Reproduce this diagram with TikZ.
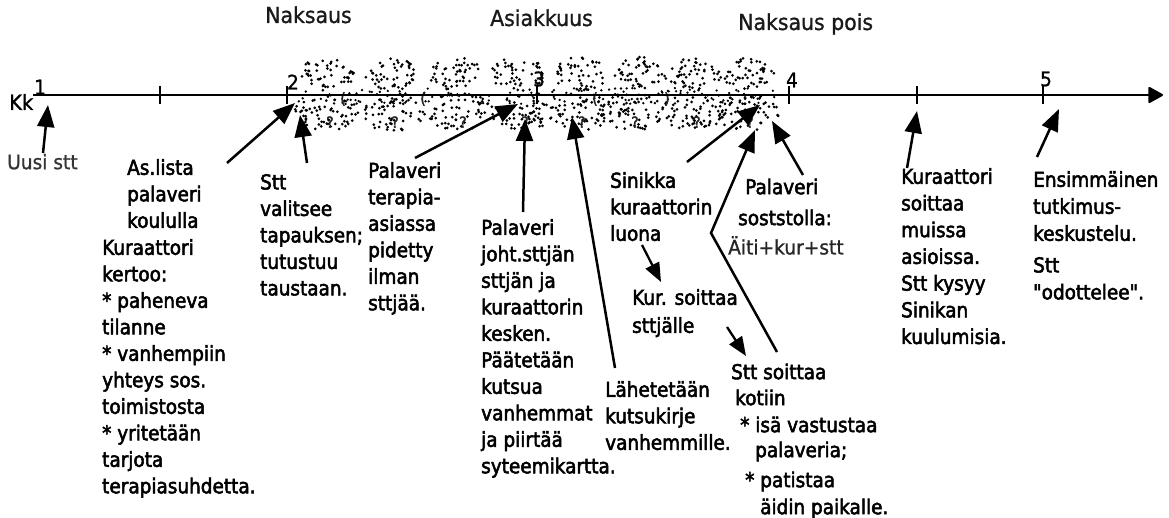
\documentclass[tikz,border=0pt]{standalone}
\usepackage{fontspec}
\setmainfont{DejaVu Sans}
\newfontfamily\bodyf[FakeBold=2.5,FakeStretch=0.9]{DejaVu Sans}
\newfontfamily\lightf[FakeBold=1,FakeStretch=0.93]{DejaVu Sans}
\usetikzlibrary{arrows.meta}
\begin{document}
\begin{tikzpicture}[x=1pt,y=-1pt,
 arr/.style={line width=2.5pt,-{Triangle[length=22pt,width=17pt]}},
 sarr/.style={line width=2.3pt,-{Triangle[length=19pt,width=15pt]}},
 txt/.style={anchor=north west,inner sep=0pt,align=left,
   font=\bodyf\fontsize{20.5}{26.5}\selectfont,
   execute at begin node={\rule{0pt}{18pt}}},
 ltxt/.style={txt,font=\lightf\fontsize{20}{26.5}\selectfont,text=black!80},
 hdr/.style={anchor=base west,inner sep=0pt,font=\lightf\fontsize{22}{25}\selectfont,text=black!90},
 num/.style={inner sep=0pt,font=\lightf\fontsize{20}{20}\selectfont},
 dotq/.style={inner sep=0pt,font=\bodyf\fontsize{15}{15}\selectfont,text=black!85},
 tick/.style={line width=2.2pt}]
\useasboundingbox[fill=white] (0,0) rectangle (1169,518);

% ---- stippled cloud ----
\pgfmathsetseed{1234}
\foreach \cx in {327,392,455,518,580,640,695,748}{
  \foreach \k in {1,...,50}{
    \pgfmathsetmacro\aa{360*rnd}
    \pgfmathsetmacro\rr{sqrt(rnd)}
    \fill ({\cx+27*\rr*cos(\aa)},{74+17*\rr*sin(\aa)}) circle[radius=1.5pt];
  }
}
\foreach \cx in {330,395,463,525,582,635,697,750}{
  \foreach \k in {1,...,62}{
    \pgfmathsetmacro\aa{360*rnd}
    \pgfmathsetmacro\rr{sqrt(rnd)}
    \fill ({\cx-3+33*\rr*cos(\aa)},{112+19*\rr*sin(\aa)}) circle[radius=1.5pt];
  }
  \node[dotq] (q\cx) at (\cx,122) {?};
}
\foreach \k in {1,...,130}{
  \fill ({298+477*rnd},{96+8*rand}) circle[radius=1.3pt];
}
\node[dotq] (pa) at (343,99) {(};
\node[dotq] (pb) at (423,99) {(};
\node[dotq] (pc) at (595,99) {(};
\node[dotq] (pd) at (667,99) {)};

% ---- axis ----
\coordinate (ax0) at (33,95);
\coordinate (ax1) at (1163,95);
\draw[line width=2.2pt,-{Triangle[length=16pt,width=17pt,round]}] (ax0) -- (ax1);
\foreach \t in {160,287,537,789,917,1043}{\draw[tick] (\t,86) -- (\t,104);}
\node[num] (n1) at (40,87) {1};
\node[num] (n2) at (293,82) {2};
\node[num] (n3) at (539,79) {3};
\node[num] (n4) at (792,80) {4};
\node[num] (n5) at (1046,79) {5};
\node[anchor=west,inner sep=0pt,font=\lightf\fontsize{21}{22}\selectfont] (kk) at (9,102) {Kk};

% ---- headers ----
\node[hdr] (h1) at (265,23) {Naksaus};
\node[hdr] (h2) at (490,26) {Asiakkuus};
\node[hdr] (h3) at (738,30) {Naksaus pois};

% ---- texts ----
\node[ltxt] (uusi) at (7,151) {Uusi stt};
\node[txt] (as1) at (127,159) {As.lista\\palaveri\\koululla};
\node[txt] (as2) at (102,239) {Kuraattori\\kertoo:\\* paheneva\\tilanne\\* vanhempiin\\yhteys sos.\\toimistosta\\* yritetään\\tarjota\\terapiasuhdetta.};
\node[txt] (stt) at (260,174) {Stt\\valitsee\\tapauksen;\\tutustuu\\taustaan.};
\node[txt] (pter) at (368,162) {Palaveri\\terapia-\\asiassa\\pidetty\\ilman\\sttjää.};
\node[txt] (pjoht) at (481,219) {Palaveri\\joht.sttjän\\sttjän ja\\kuraattorin\\kesken.\\Päätetään\\kutsua\\vanhemmat\\ja piirtää\\syteemikartta.};
\node[txt] (lah) at (605,381) {Lähetetään\\kutsukirje\\vanhemmille.};
\node[txt] (sin) at (610,172) {Sinikka\\kuraattorin\\luona};
\node[txt,font=\bodyf\fontsize{20.5}{28}\selectfont] (kur) at (632,289) {Kur. soittaa\\sttjälle};
\node[txt] (pso1) at (745,176) {Palaveri};
\node[txt] (pso2) at (738,207) {soststolla:};
\node[ltxt,text=black!85] (pso3) at (728,236) {Äiti+kur+stt};
\node[txt] (ss1) at (731,361) {Stt soittaa};
\node[txt] (ss2) at (735,387) {kotiin};
\node[txt] (ss3) at (740,414) {* isä vastustaa};
\node[txt] (ss4) at (755,439) {palaveria;};
\node[txt] (ss5) at (745,469) {* patistaa};
\node[txt] (ss6) at (760,496) {äidin paikalle.};
\node[txt,font=\bodyf\fontsize{20.5}{26.7}\selectfont] (kura) at (901,168) {Kuraattori\\soittaa\\muissa\\asioissa.\\Stt kysyy\\Sinikan\\kuulumisia.};
\node[txt,font=\bodyf\fontsize{20.5}{27}\selectfont] (ens1) at (1033,171) {Ensimmäinen\\tutkimus-\\keskustelu.};
\node[txt,font=\bodyf\fontsize{20.5}{27}\selectfont] (ens2) at (1033,257) {Stt\\"odottelee".};

% ---- arrows ----
\coordinate (uT) at (43,153);   \coordinate (uH) at (48,105);
\coordinate (aT) at (227,163);  \coordinate (aH) at (295,103);
\coordinate (sT) at (307,163);  \coordinate (sH) at (300,115);
\coordinate (pT) at (415,158);  \coordinate (pH) at (518,104);
\coordinate (jT) at (523,212);  \coordinate (jH) at (525,119);
\coordinate (lT) at (615,368);  \coordinate (lH) at (572,117);
\coordinate (kT) at (687,162);  \coordinate (kH) at (760,105);
\coordinate (tT) at (777,352);  \coordinate (tB) at (711,233);  \coordinate (tH) at (755,130);
\coordinate (oT) at (803,175);  \coordinate (oH) at (772,121);
\coordinate (rT) at (907,168);  \coordinate (rH) at (917,111);
\coordinate (eT) at (1037,157); \coordinate (eH) at (1059,109);
\coordinate (lnT) at (642,245); \coordinate (lnH) at (661,282);
\coordinate (sjT) at (727,327); \coordinate (sjH) at (746,356);
\draw[arr] (uT) -- (uH);
\draw[arr] (aT) -- (aH);
\draw[arr] (sT) -- (sH);
\draw[arr] (pT) -- (pH);
\draw[arr] (jT) -- (jH);
\draw[arr] (lT) -- (lH);
\draw[arr] (kT) -- (kH);
\draw[arr,line join=miter] (tT) -- (tB) -- (tH);
\draw[arr] (oT) -- (oH);
\draw[arr] (rT) -- (rH);
\draw[arr] (eT) -- (eH);
\draw[sarr] (lnT) -- (lnH);
\draw[sarr] (sjT) -- (sjH);
\end{tikzpicture}
\end{document}
